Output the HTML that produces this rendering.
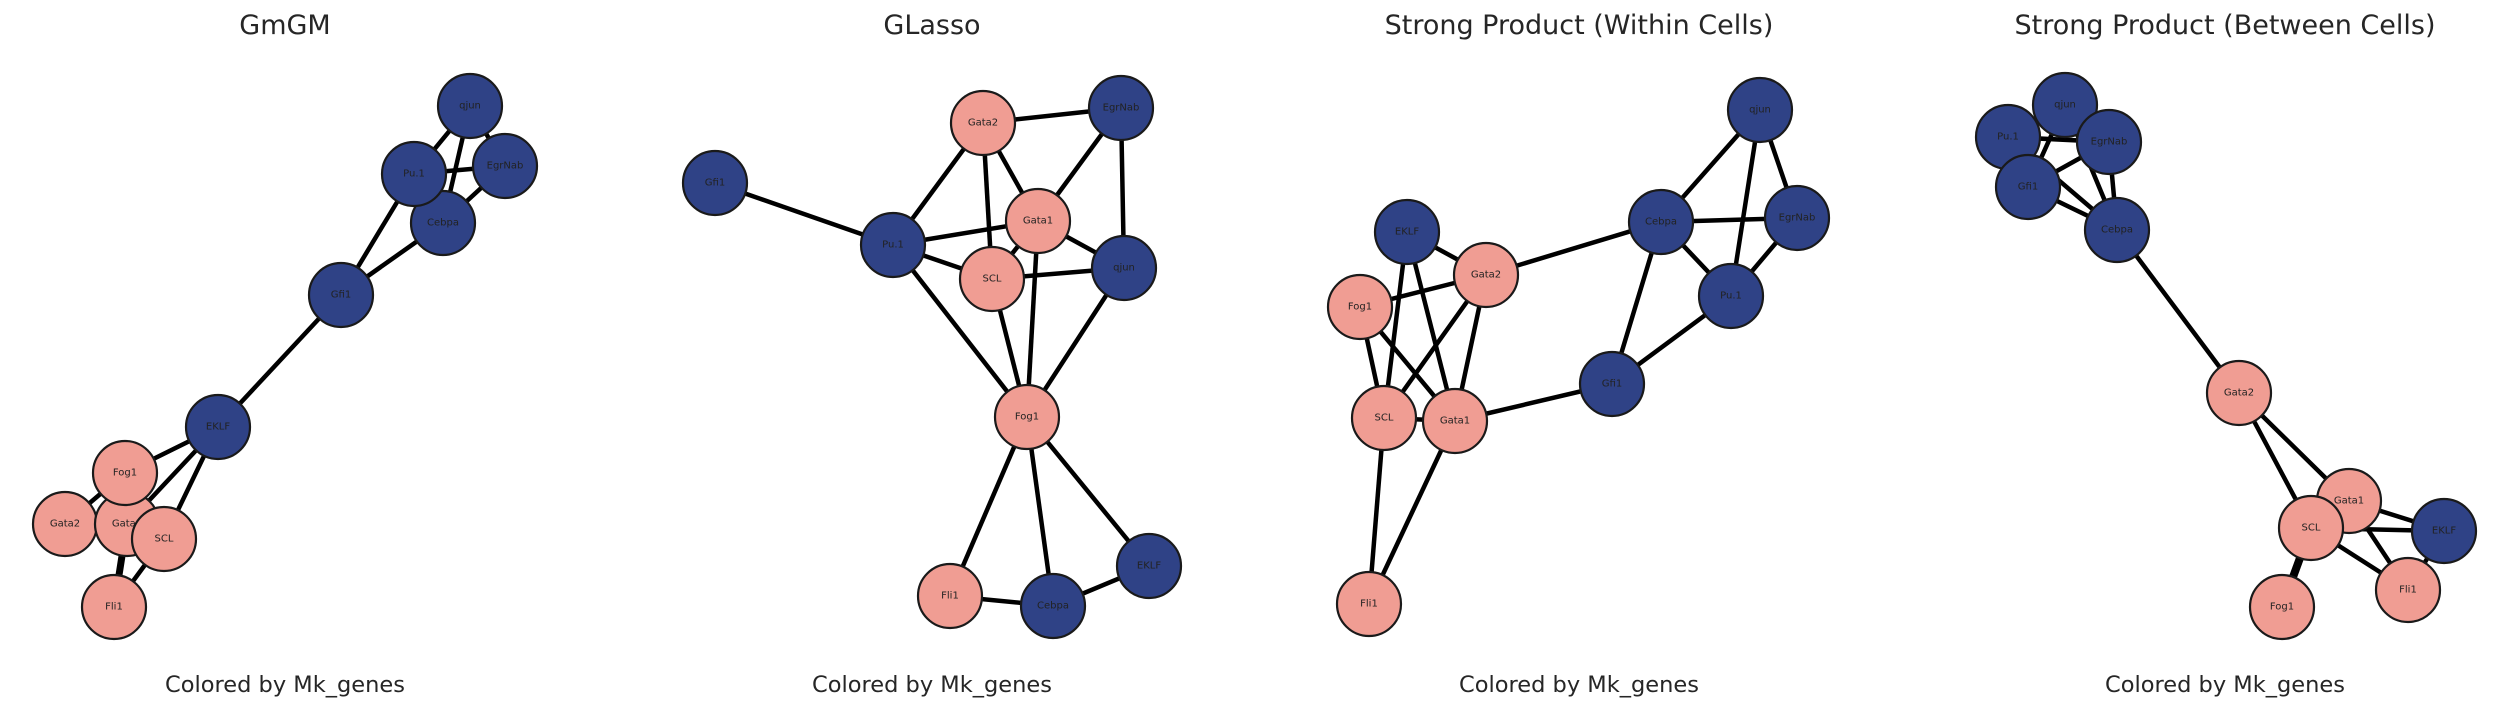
<!DOCTYPE html>
<html><head><meta charset="utf-8"><style>
html,body{margin:0;padding:0;background:#fff;}
svg{display:block;}
text{font-family:"DejaVu Sans","Liberation Sans",sans-serif;fill:#262626;}
.t{font-size:27px;text-anchor:middle;}
.b{font-size:22.5px;text-anchor:middle;}
.n{font-size:10px;text-anchor:middle;dominant-baseline:central;fill:#222;}
line{stroke:#000;stroke-width:4.5;}
.B{fill:#2f4286;stroke:#1a1a1a;stroke-width:2.2;}
.P{fill:#f09d93;stroke:#1a1a1a;stroke-width:2.2;}
</style></head><body>
<svg width="2500" height="708" viewBox="0 0 2500 708" xmlns="http://www.w3.org/2000/svg">
<text class="t" x="285" y="34">GmGM</text>
<text class="t" x="932" y="34">GLasso</text>
<text class="t" x="1579" y="34">Strong Product (Within Cells)</text>
<text class="t" x="2225" y="34">Strong Product (Between Cells)</text>
<text class="b" x="285" y="692">Colored by Mk_genes</text>
<text class="b" x="932" y="692">Colored by Mk_genes</text>
<text class="b" x="1579" y="692">Colored by Mk_genes</text>
<text class="b" x="2225" y="692">Colored by Mk_genes</text>

<!-- Panel 1 edges -->
<g>
<line x1="470" y1="106" x2="414" y2="174"/><line x1="470" y1="106" x2="443" y2="223"/><line x1="470" y1="106" x2="505" y2="166"/>
<line x1="414" y1="174" x2="505" y2="166"/><line x1="414" y1="174" x2="443" y2="223"/><line x1="505" y1="166" x2="443" y2="223"/>
<line x1="414" y1="174" x2="341" y2="295"/><line x1="443" y1="223" x2="341" y2="295"/><line x1="341" y1="295" x2="218" y2="427"/>
<line x1="218" y1="427" x2="125" y2="473"/><line x1="218" y1="427" x2="127" y2="524"/><line x1="218" y1="427" x2="164" y2="539"/>
<line x1="125" y1="473" x2="65" y2="524"/><line x1="125" y1="473" x2="127" y2="524"/><line x1="65" y1="524" x2="127" y2="524"/>
<line x1="127" y1="524" x2="114" y2="607" style="stroke-width:7"/><line x1="164" y1="539" x2="114" y2="607"/><line x1="127" y1="524" x2="164" y2="539"/><line x1="125" y1="473" x2="164" y2="539"/>
</g>
<g>
<circle class="B" cx="470" cy="106" r="32"/><text class="n" x="470" y="106">qjun</text>
<circle class="B" cx="505" cy="166" r="32"/><text class="n" x="505" y="166">EgrNab</text>
<circle class="B" cx="443" cy="223" r="32"/><text class="n" x="443" y="223">Cebpa</text>
<circle class="B" cx="414" cy="174" r="32"/><text class="n" x="414" y="174">Pu.1</text>
<circle class="B" cx="341" cy="295" r="32"/><text class="n" x="341" y="295">Gfi1</text>
<circle class="B" cx="218" cy="427" r="32"/><text class="n" x="218" y="427">EKLF</text>
<circle class="P" cx="114" cy="607" r="32"/><text class="n" x="114" y="607">Fli1</text>
<circle class="P" cx="65" cy="524" r="32"/><text class="n" x="65" y="524">Gata2</text>
<circle class="P" cx="127" cy="524" r="32"/><text class="n" x="127" y="524">Gata1</text>
<circle class="P" cx="125" cy="473" r="32"/><text class="n" x="125" y="473">Fog1</text>
<circle class="P" cx="164" cy="539" r="32"/><text class="n" x="164" y="539">SCL</text>
</g>

<!-- Panel 2 -->
<g>
<line x1="983" y1="123" x2="1121" y2="108"/><line x1="983" y1="123" x2="893" y2="245"/><line x1="983" y1="123" x2="992" y2="279"/><line x1="983" y1="123" x2="1038" y2="221"/>
<line x1="1121" y1="108" x2="1038" y2="221"/><line x1="1121" y1="108" x2="1124" y2="268"/><line x1="715" y1="183" x2="893" y2="245"/>
<line x1="893" y1="245" x2="1038" y2="221"/><line x1="893" y1="245" x2="992" y2="279"/><line x1="893" y1="245" x2="1027" y2="417"/>
<line x1="1038" y1="221" x2="1124" y2="268"/><line x1="1038" y1="221" x2="992" y2="279"/><line x1="1038" y1="221" x2="1027" y2="417"/>
<line x1="992" y1="279" x2="1124" y2="268"/><line x1="992" y1="279" x2="1027" y2="417"/><line x1="1124" y1="268" x2="1027" y2="417"/>
<line x1="1027" y1="417" x2="950" y2="596"/><line x1="1027" y1="417" x2="1053" y2="606"/><line x1="1027" y1="417" x2="1149" y2="566"/>
<line x1="950" y1="596" x2="1053" y2="606"/><line x1="1053" y1="606" x2="1149" y2="566"/>
</g>
<g>
<circle class="P" cx="983" cy="123" r="32"/><text class="n" x="983" y="123">Gata2</text>
<circle class="B" cx="1121" cy="108" r="32"/><text class="n" x="1121" y="108">EgrNab</text>
<circle class="B" cx="715" cy="183" r="32"/><text class="n" x="715" y="183">Gfi1</text>
<circle class="B" cx="893" cy="245" r="32"/><text class="n" x="893" y="245">Pu.1</text>
<circle class="B" cx="1124" cy="268" r="32"/><text class="n" x="1124" y="268">qjun</text>
<circle class="P" cx="992" cy="279" r="32"/><text class="n" x="992" y="279">SCL</text>
<circle class="P" cx="1038" cy="221" r="32"/><text class="n" x="1038" y="221">Gata1</text>
<circle class="P" cx="1027" cy="417" r="32"/><text class="n" x="1027" y="417">Fog1</text>
<circle class="P" cx="950" cy="596" r="32"/><text class="n" x="950" y="596">Fli1</text>
<circle class="B" cx="1053" cy="606" r="32"/><text class="n" x="1053" y="606">Cebpa</text>
<circle class="B" cx="1149" cy="566" r="32"/><text class="n" x="1149" y="566">EKLF</text>
</g>

<!-- Panel 3 -->
<g>
<line x1="1760" y1="110" x2="1661" y2="222"/><line x1="1760" y1="110" x2="1731" y2="296"/><line x1="1760" y1="110" x2="1797" y2="218"/>
<line x1="1661" y1="222" x2="1797" y2="218"/><line x1="1661" y1="222" x2="1731" y2="296"/><line x1="1797" y1="218" x2="1731" y2="296"/>
<line x1="1661" y1="222" x2="1612" y2="384"/><line x1="1731" y1="296" x2="1612" y2="384"/><line x1="1612" y1="384" x2="1455" y2="421"/>
<line x1="1486" y1="275" x2="1661" y2="222"/><line x1="1407" y1="232" x2="1486" y2="275"/><line x1="1407" y1="232" x2="1384" y2="418"/><line x1="1407" y1="232" x2="1455" y2="421"/>
<line x1="1360" y1="307" x2="1486" y2="275"/><line x1="1360" y1="307" x2="1384" y2="418"/><line x1="1360" y1="307" x2="1455" y2="421"/>
<line x1="1486" y1="275" x2="1384" y2="418"/><line x1="1486" y1="275" x2="1455" y2="421"/><line x1="1384" y1="418" x2="1455" y2="421"/>
<line x1="1384" y1="418" x2="1369" y2="604"/><line x1="1455" y1="421" x2="1369" y2="604"/>
</g>
<g>
<circle class="B" cx="1760" cy="110" r="32"/><text class="n" x="1760" y="110">qjun</text>
<circle class="B" cx="1661" cy="222" r="32"/><text class="n" x="1661" y="222">Cebpa</text>
<circle class="B" cx="1797" cy="218" r="32"/><text class="n" x="1797" y="218">EgrNab</text>
<circle class="B" cx="1731" cy="296" r="32"/><text class="n" x="1731" y="296">Pu.1</text>
<circle class="B" cx="1612" cy="384" r="32"/><text class="n" x="1612" y="384">Gfi1</text>
<circle class="B" cx="1407" cy="232" r="32"/><text class="n" x="1407" y="232">EKLF</text>
<circle class="P" cx="1486" cy="275" r="32"/><text class="n" x="1486" y="275">Gata2</text>
<circle class="P" cx="1360" cy="307" r="32"/><text class="n" x="1360" y="307">Fog1</text>
<circle class="P" cx="1384" cy="418" r="32"/><text class="n" x="1384" y="418">SCL</text>
<circle class="P" cx="1455" cy="421" r="32"/><text class="n" x="1455" y="421">Gata1</text>
<circle class="P" cx="1369" cy="604" r="32"/><text class="n" x="1369" y="604">Fli1</text>
</g>

<!-- Panel 4 -->
<g>
<line x1="2065" y1="105" x2="2008" y2="137"/><line x1="2065" y1="105" x2="2109" y2="142"/><line x1="2008" y1="137" x2="2109" y2="142"/>
<line x1="2008" y1="137" x2="2028" y2="187"/><line x1="2008" y1="137" x2="2117" y2="230"/><line x1="2065" y1="105" x2="2028" y2="187"/>
<line x1="2109" y1="142" x2="2028" y2="187"/><line x1="2109" y1="142" x2="2117" y2="230"/><line x1="2028" y1="187" x2="2117" y2="230"/><line x1="2065" y1="105" x2="2117" y2="230"/>
<line x1="2117" y1="230" x2="2239" y2="393"/><line x1="2239" y1="393" x2="2311" y2="528"/><line x1="2239" y1="393" x2="2349" y2="501"/>
<line x1="2349" y1="501" x2="2444" y2="531"/><line x1="2311" y1="528" x2="2444" y2="531"/><line x1="2349" y1="501" x2="2408" y2="590"/>
<line x1="2311" y1="528" x2="2408" y2="590"/><line x1="2444" y1="531" x2="2408" y2="590"/><line x1="2311" y1="528" x2="2282" y2="607" style="stroke-width:8"/><line x1="2349" y1="501" x2="2311" y2="528"/>
</g>
<g>
<circle class="B" cx="2008" cy="137" r="32"/><text class="n" x="2008" y="137">Pu.1</text>
<circle class="B" cx="2065" cy="105" r="32"/><text class="n" x="2065" y="105">qjun</text>
<circle class="B" cx="2109" cy="142" r="32"/><text class="n" x="2109" y="142">EgrNab</text>
<circle class="B" cx="2028" cy="187" r="32"/><text class="n" x="2028" y="187">Gfi1</text>
<circle class="B" cx="2117" cy="230" r="32"/><text class="n" x="2117" y="230">Cebpa</text>
<circle class="P" cx="2239" cy="393" r="32"/><text class="n" x="2239" y="393">Gata2</text>
<circle class="B" cx="2444" cy="531" r="32"/><text class="n" x="2444" y="531">EKLF</text>
<circle class="P" cx="2349" cy="501" r="32"/><text class="n" x="2349" y="501">Gata1</text>
<circle class="P" cx="2311" cy="528" r="32"/><text class="n" x="2311" y="528">SCL</text>
<circle class="P" cx="2408" cy="590" r="32"/><text class="n" x="2408" y="590">Fli1</text>
<circle class="P" cx="2282" cy="607" r="32"/><text class="n" x="2282" y="607">Fog1</text>
</g>
</svg>
</body></html>
